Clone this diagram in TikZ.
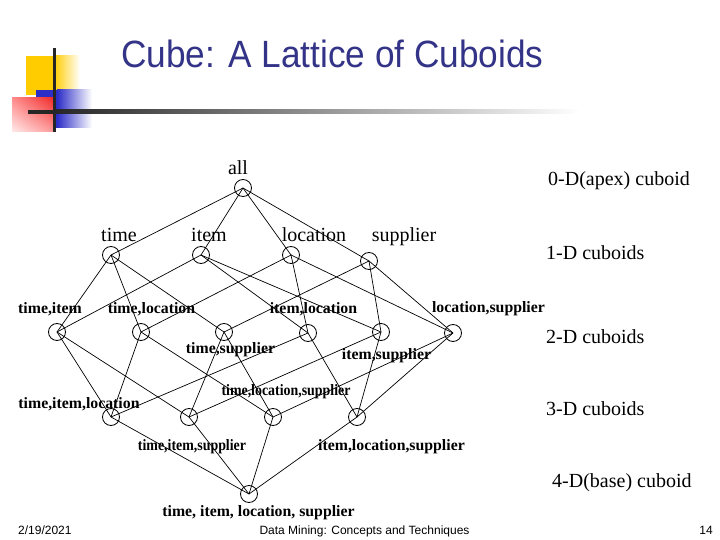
\documentclass[tikz,border=0pt]{standalone}
\usepackage{graphicx}
\usepackage{fontspec}
\usetikzlibrary{shadings}
\setmainfont{Liberation Serif}
\newfontfamily\sff{Liberation Sans}
\definecolor{titleblue}{RGB}{51,51,136}
\definecolor{logoyellow}{RGB}{255,204,0}
\definecolor{logoblue}{RGB}{45,45,200}
\definecolor{logored}{RGB}{240,40,40}
\tikzset{
  cub/.style={circle, draw, minimum size=17pt, inner sep=0pt, line width=0.8pt},
  edge/.style={line width=0.7pt},
  lblone/.style={anchor=base, inner sep=0pt, font=\fontsize{20}{24}\selectfont},
  lbltwo/.style={anchor=base, inner sep=0pt, font=\bfseries\fontsize{15.8}{18}\selectfont},
  dimlbl/.style={anchor=base west, inner sep=0pt, font=\fontsize{20}{24}\selectfont},
  foot/.style={anchor=base, inner sep=0pt, font=\sff\fontsize{12}{14}\selectfont}
}
\begin{document}
\begin{tikzpicture}[x=1pt,y=-1pt]
\useasboundingbox[fill=white] (0,0) rectangle (720,540);
% logo
\fill[logoyellow] (26,56) rectangle (54,95);
\shade[left color=logoyellow, right color=white] (54,56) rectangle (80,95);
\fill[logoblue] (36,90) rectangle (57,128);
\shade[left color=logoblue, right color=white] (57,90) rectangle (92,128);
\shade[upper right=logored, upper left=red!45, lower right=red!40, lower left=red!8] (12,98) rectangle (55,132);
\fill[black!85] (28,110) rectangle (55,114);
\shade[left color=black!85, right color=white] (55,110) rectangle (580,114);
\fill[black!85] (52.5,48) rectangle (55.5,132);
% title
\node[anchor=base west, inner sep=0pt, text=titleblue, font=\sff\fontsize{38}{44}\selectfont] (title) at (121,68) {\scalebox{0.927}[1]{Cube: A Lattice of Cuboids}};
% lattice nodes
\node[cub] (all) at (243,188) {};
\node[cub] (t) at (111,255) {};
\node[cub] (i) at (201,255) {};
\node[cub] (l) at (291,255) {};
\node[cub] (s) at (369,261) {};
\node[cub] (ti) at (57,332) {};
\node[cub] (tl) at (141,332) {};
\node[cub] (ts) at (224,332) {};
\node[cub] (il) at (308,333) {};
\node[cub] (is) at (381,332) {};
\node[cub] (ls) at (453,333) {};
\node[cub] (til) at (111,417) {};
\node[cub] (tis) at (189,417) {};
\node[cub] (tls) at (273,417) {};
\node[cub] (ils) at (357,417) {};
\node[cub] (tils) at (249,494) {};
% edges
\foreach \a/\b in {all/t,all/i,all/l,all/s,
  t/ti,t/tl,t/ts, i/ti,i/il,i/is, l/tl,l/il,l/ls, s/ts,s/is,s/ls,
  ti/til,ti/tis, tl/til,tl/tls, ts/tis,ts/tls, il/til,il/ils, is/tis,is/ils, ls/tls,ls/ils,
  til/tils,tis/tils,tls/tils,ils/tils}
  \draw[edge] (\a.center) -- (\b.center);
% labels
\node[lblone] (lall) at (238,175) {all};
\node[lblone] (lt) at (119,241) {time};
\node[lblone] (li) at (209,241) {item};
\node[lblone] (ll) at (314,241) {location};
\node[lblone] (lsup) at (404,241) {supplier};
\node[lbltwo] (lti) at (50,313) {time,item};
\node[lbltwo] (ltl) at (151.5,313) {time,location};
\node[lbltwo] (lil) at (313.5,313) {item,location};
\node[lbltwo] (lls) at (488.5,312) {location,supplier};
\node[lbltwo] (lts) at (230.5,353) {time,supplier};
\node[lbltwo] (lis) at (386.5,359) {item,supplier};
\node[lbltwo] (ltls) at (286,395) {\scalebox{0.88}[1]{time,location,supplier}};
\node[lbltwo] (ltil) at (79,408) {time,item,location};
\node[lbltwo] (ltis) at (192,450) {\scalebox{0.88}[1]{time,item,supplier}};
\node[lbltwo] (lils) at (391.5,450) {item,location,supplier};
\node[lbltwo] (ltils) at (258.5,516) {time, item, location, supplier};
% dimension labels
\node[dimlbl] (d0) at (548,186) {0-D(apex) cuboid};
\node[dimlbl] (d1) at (546,259) {1-D cuboids};
\node[dimlbl] (d2) at (546,343) {2-D cuboids};
\node[dimlbl] (d3) at (546,415) {3-D cuboids};
\node[dimlbl] (d4) at (552,487) {4-D(base) cuboid};
% footer
\node[foot, anchor=base west] (date) at (18,534) {2/19/2021};
\node[foot] (course) at (364.5,534) {Data Mining: Concepts and Techniques};
\node[foot] (page) at (706,534) {14};
\end{tikzpicture}
\end{document}
